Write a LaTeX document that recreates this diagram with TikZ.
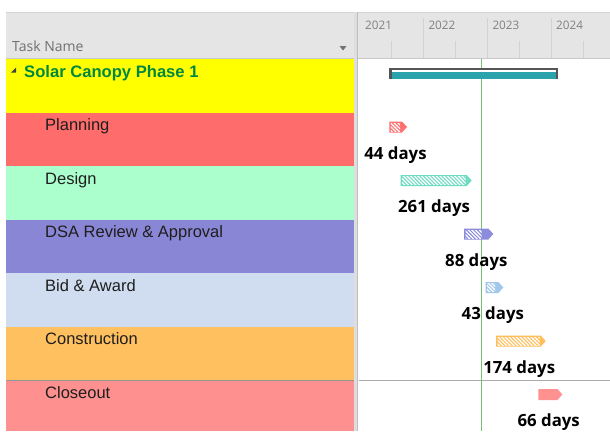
\documentclass[tikz,border=0pt]{standalone}
\usepackage{fontspec}
\setmainfont{Liberation Sans}
\newfontfamily\uifont{Open Sans}
\usetikzlibrary{patterns.meta}
\definecolor{hdrgray}{RGB}{229,229,229}
\definecolor{hdrline}{RGB}{200,200,200}
\definecolor{divgray}{RGB}{222,222,222}
\definecolor{divline}{RGB}{190,190,190}
\definecolor{tickgray}{RGB}{210,210,210}
\definecolor{yeargray}{RGB}{128,128,128}
\definecolor{tnamegray}{RGB}{112,112,112}
\definecolor{sumgreen}{RGB}{0,136,64}
\definecolor{taskfg}{RGB}{30,30,30}
\definecolor{rowyellow}{RGB}{255,255,0}
\definecolor{rowplan}{RGB}{255,108,108}
\definecolor{rowdesign}{RGB}{170,255,204}
\definecolor{rowdsa}{RGB}{138,134,214}
\definecolor{rowbid}{RGB}{208,221,240}
\definecolor{rowconst}{RGB}{255,192,96}
\definecolor{rowclose}{RGB}{255,144,144}
\definecolor{barplan}{RGB}{255,112,112}
\definecolor{bardesign}{RGB}{110,220,195}
\definecolor{bardsa}{RGB}{140,140,220}
\definecolor{barbid}{RGB}{160,200,235}
\definecolor{barconst}{RGB}{255,190,90}
\definecolor{barclose}{RGB}{255,145,145}
\definecolor{sumteal}{RGB}{42,163,173}
\definecolor{sumframe}{RGB}{85,85,85}
\definecolor{todaygreen}{RGB}{120,190,120}
\definecolor{sepline}{RGB}{150,150,150}
\newcommand\gbar[5]{%
  \fill[#4] (#1,#3-5.5) -- (#2-5,#3-5.5) -- (#2,#3) -- (#2-5,#3+5.5) -- (#1,#3+5.5) -- cycle;
  \fill[pattern={Lines[angle=-45,distance=2.6pt,line width=1.3pt]}, pattern color=white]
    (#1+1.5,#3-4) rectangle (#5,#3+4);
}
\begin{document}
\begin{tikzpicture}[x=1pt,y=-1pt,
  taskname/.style={anchor=base west, inner sep=0pt, text=taskfg,
    font=\fontsize{16.5}{18}\selectfont},
  durlabel/.style={anchor=base, inner sep=0pt, text=black,
    font=\uifont\bfseries\fontsize{16.8}{18}\selectfont},
  yearlbl/.style={anchor=base west, inner sep=0pt, text=yeargray,
    font=\uifont\fontsize{11.7}{13}\selectfont},
  rowbox/.style={fill=#1, draw=none}]
\useasboundingbox (0,0) rectangle (610,431);
\fill[white] (0,0) rectangle (610,431);
% headers
\fill[hdrgray] (6,12) rectangle (354,58);
\fill[hdrgray] (358,12) rectangle (610,58);
\draw[tickgray] (6,12.5) -- (610,12.5);
\draw[hdrline] (6,58.5) -- (354,58.5);
\draw[hdrline] (358,58.5) -- (610,58.5);
% rows
\fill[rowbox=rowyellow] (6,59) rectangle (354,112.5);
\fill[rowbox=rowplan] (6,112.5) rectangle (354,166);
\fill[rowbox=rowdesign] (6,166) rectangle (354,219.5);
\fill[rowbox=rowdsa] (6,219.5) rectangle (354,273);
\fill[rowbox=rowbid] (6,273) rectangle (354,326.5);
\fill[rowbox=rowconst] (6,326.5) rectangle (354,380);
\fill[rowbox=rowclose] (6,380) rectangle (354,431);
% divider
\fill[divgray] (354,12) rectangle (357.3,431);
\draw[divline, line width=1pt] (357.8,12) -- (357.8,431);
% header texts
\node[anchor=base west, inner sep=0pt, text=tnamegray, font=\uifont\fontsize{14}{16}\selectfont] (tn) at (12,51) {Task Name};
\fill[gray!90!black] (339.5,46) -- (346.5,46) -- (343,50.5) -- cycle;
\node[yearlbl] (y21) at (365,29) {2021};
\node[yearlbl] (y22) at (428.3,29) {2022};
\node[yearlbl] (y23) at (492.3,29) {2023};
\node[yearlbl] (y24) at (556,29) {2024};
\foreach \x in {423,487,551} \draw[tickgray] (\x,18) -- (\x,58);
\foreach \x in {391,455,519,583} \draw[tickgray] (\x,41) -- (\x,58);
% separator line
\draw[sepline] (6,380) -- (354,380);
\draw[sepline!80] (358.5,380.5) -- (610,380.5);
% today line
\draw[todaygreen, line width=0.9pt] (481.5,58.5) -- (481.5,431);
% task names
\fill[taskfg!85] (11,72.5) -- (16,72.5) -- (16,67.5) -- cycle;
\node[anchor=base west, inner sep=0pt, text=sumgreen, font=\bfseries\fontsize{16.6}{18}\selectfont] (sum) at (24,77) {Solar Canopy Phase 1};
\node[taskname] (t1) at (45,130.5) {Planning};
\node[taskname] (t2) at (45,184) {Design};
\node[taskname] (t3) at (45,237.5) {DSA Review \& Approval};
\node[taskname] (t4) at (45,291) {Bid \& Award};
\node[taskname] (t5) at (45,344.5) {Construction};
\node[taskname] (t6) at (45,398) {Closeout};
% summary bar
\fill[sumframe] (389.3,67.7) rectangle (558,79.3);
\fill[white] (391.5,70) rectangle (555.8,79.3);
\fill[sumteal] (391.5,71.8) rectangle (555.8,79.3);
% task bars
\gbar{389.3}{407}{127}{barplan}{400}
\gbar{400.7}{471.7}{180.5}{bardesign}{465.7}
\gbar{464}{493.3}{234}{bardsa}{481.5}
\gbar{485.7}{503.3}{287.5}{barbid}{495}
\gbar{496}{545.7}{341}{barconst}{539.7}
\fill[barclose] (538.3,389) -- (557.5,389) -- (562.3,394.5) -- (557.5,400) -- (538.3,400) -- cycle;
% duration labels
\node[durlabel] (d1) at (395.5,159.3) {44 days};
\node[durlabel] (d2) at (434,212.8) {261 days};
\node[durlabel] (d3) at (476.3,266.3) {88 days};
\node[durlabel] (d4) at (492.8,319.8) {43 days};
\node[durlabel] (d5) at (519.2,373.3) {174 days};
\node[durlabel] (d6) at (548.7,426.8) {66 days};
\end{tikzpicture}
\end{document}
